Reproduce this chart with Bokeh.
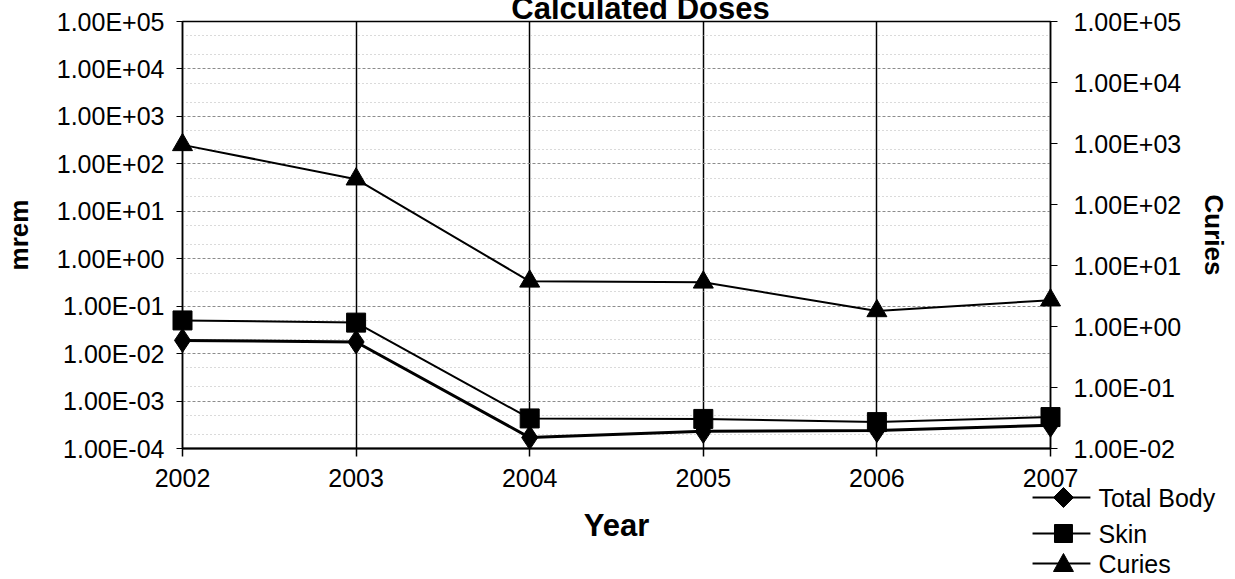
import math
from bokeh.plotting import figure
from bokeh.models import (Range1d, LogAxis, FixedTicker, CustomJSTickFormatter, LogScale)
from bokeh.core.properties import value
from bokeh.embed import file_html
from bokeh.resources import INLINE

years = [2002, 2003, 2004, 2005, 2006, 2007]
total_body = [0.019, 0.0176, 1.7e-4, 2.3e-4, 2.4e-4, 3.1e-4]
skin = [0.050, 0.045, 4.3e-4, 4.2e-4, 3.6e-4, 4.6e-4]
curies = [950, 260, 5.5, 5.3, 1.8, 2.7]

mrem_ticks = [1e-4, 1e-3, 1e-2, 1e-1, 1e0, 1e1, 1e2, 1e3, 1e4, 1e5]
mrem_labels = ["1.00E-04", "1.00E-03", "1.00E-02", "1.00E-01", "1.00E+00",
               "1.00E+01", "1.00E+02", "1.00E+03", "1.00E+04", "1.00E+05"]
curie_ticks = [1e-2, 1e-1, 1e0, 1e1, 1e2, 1e3, 1e4, 1e5]
curie_labels = ["1.00E-02", "1.00E-01", "1.00E+00", "1.00E+01",
                "1.00E+02", "1.00E+03", "1.00E+04", "1.00E+05"]
series_names = ["Total Body", "Skin", "Curies"]
chart_title = "Calculated Doses"

FONT = "Liberation Sans"

# layout (pixels)
W, H = 1235, 579
FL, FR, FT, FB = 180, 1050, 21, 448   # frame edges
FW, FH = FR - FL, FB - FT

fmt_code = """
let best = 0, bd = Infinity;
for (let i = 0; i < tvals.length; i++) {
  const d = Math.abs(Math.log10(tvals[i]) - Math.log10(tick));
  if (d < bd) { bd = d; best = i; }
}
return tlabels[best];
"""

p = figure(width=W, height=H,
           x_range=Range1d(years[0], years[-1]),
           y_range=Range1d(mrem_ticks[0], mrem_ticks[-1]),
           y_axis_type="log", output_backend="svg", toolbar_location=None,
           min_border_left=FL, min_border_right=W - FR,
           min_border_top=FT, min_border_bottom=H - FB)
p.background_fill_color = "white"
p.border_fill_color = "white"
p.outline_line_color = "black"
p.outline_line_width = 1.5

p.extra_y_ranges = {"cur": Range1d(curie_ticks[0], curie_ticks[-1])}
p.extra_y_scales = {"cur": LogScale()}

la = p.yaxis[0]
la.ticker = FixedTicker(ticks=mrem_ticks, minor_ticks=[])
la.formatter = CustomJSTickFormatter(args=dict(tvals=mrem_ticks, tlabels=mrem_labels), code=fmt_code)
la.axis_label = "mrem"

ra = LogAxis(y_range_name="cur")
ra.ticker = FixedTicker(ticks=curie_ticks, minor_ticks=[])
ra.formatter = CustomJSTickFormatter(args=dict(tvals=curie_ticks, tlabels=curie_labels), code=fmt_code)
ra.axis_label = "Curies"
p.add_layout(ra, "right")

for ax in (la, ra):
    ax.major_label_text_font = FONT
    ax.major_label_text_font_size = "25px"
    ax.major_label_text_color = "black"
    ax.axis_label_text_font = FONT
    ax.axis_label_text_font_style = "bold"
    ax.axis_label_text_font_size = "26px"
    ax.axis_label_text_color = "black"
    ax.axis_line_color = "black"
    ax.axis_line_width = 1.5
    ax.major_tick_line_color = "black"
    ax.major_tick_out = 6
    ax.major_tick_in = 0
    ax.minor_tick_line_color = None
la.major_label_standoff = 12
la.axis_label_standoff = 20
ra.major_tick_out = 7
ra.major_label_standoff = 16
ra.axis_label_standoff = 15

xa = p.xaxis[0]
xa.ticker = FixedTicker(ticks=years, minor_ticks=[])
xa.axis_label = "Year"
xa.major_label_text_font = FONT
xa.major_label_text_font_size = "25px"
xa.major_label_text_color = "black"
xa.axis_label_text_font = FONT
xa.axis_label_text_font_style = "bold"
xa.axis_label_text_font_size = "31px"
xa.axis_label_text_color = "black"
xa.axis_line_color = "black"
xa.axis_line_width = 2
xa.major_tick_line_color = "black"
xa.major_tick_line_width = 1.5
xa.major_tick_out = 8
xa.major_tick_in = 0
xa.minor_tick_line_color = None
xa.major_label_standoff = 12
xa.axis_label_standoff = 18

# grids
p.xgrid.ticker = FixedTicker(ticks=years, minor_ticks=[])
p.xgrid.grid_line_color = "black"
p.xgrid.grid_line_width = 1.5
p.ygrid.ticker = FixedTicker(ticks=mrem_ticks,
                             minor_ticks=[t * k for t in mrem_ticks[:-1] for k in (2.0, 5.0)])
p.ygrid.grid_line_color = "#8c8c8c"
p.ygrid.grid_line_width = 1
p.ygrid.grid_line_dash = "3 2"
p.ygrid.minor_grid_line_color = "#b5b5b5"
p.ygrid.minor_grid_line_dash = "1 3"
p.ygrid.minor_grid_line_width = 1

# series
markers = ["diamond", "square", "triangle"]
msizes = [24, 19, 20]
lwidths = [3, 2, 2]
p.line(years, total_body, line_color="black", line_width=lwidths[0])
p.scatter(years, total_body, marker=markers[0], size=msizes[0], color="black", level="overlay")
p.line(years, skin, line_color="black", line_width=lwidths[1])
p.scatter(years, skin, marker=markers[1], size=msizes[1], color="black", level="overlay")
p.line(years, curies, line_color="black", line_width=lwidths[2], y_range_name="cur")
p.scatter(years, curies, marker=markers[2], size=msizes[2], color="black",
          y_range_name="cur", level="overlay")

# ---- legend outside the frame (below-right), laid out in pixels from the frame corner
px_per_x = FW / (years[-1] - years[0])
px_per_dec = FH / (math.log10(mrem_ticks[-1]) - math.log10(mrem_ticks[0]))
def lx(dx):   # dx px right of the frame's right edge
    return years[-1] + dx / px_per_x
def ly(dy):   # dy px below the frame's bottom edge
    return 10 ** (math.log10(mrem_ticks[0]) - dy / px_per_dec)

row_dy = [49, 85, 115]
line_dx = (-18, 40)
mark_dx = 13
text_dx = 48
shapes = {
    "diamond": [(-10, 0), (0, -10), (10, 0), (0, 10)],
    "square": [(-9, -9), (9, -9), (9, 9), (-9, 9)],
    "triangle": [(0, -10), (10, 8), (-10, 8)],
}
for i, name in enumerate(series_names):
    dy = row_dy[i]
    p.line([lx(line_dx[0]), lx(line_dx[1])], [ly(dy), ly(dy)],
           line_color="black", line_width=2, level="overlay")
    pts = shapes[markers[i]]
    p.patch([lx(mark_dx + a) for a, b in pts], [ly(dy + b) for a, b in pts],
            fill_color="black", line_color="black", level="overlay")

p.text(x=[years[-1]] * 3, y=[mrem_ticks[0]] * 3, text=series_names,
       x_offset=[text_dx] * 3, y_offset=row_dy,
       text_font=value(FONT), text_font_size=value("25px"), text_color="black",
       text_align="left", text_baseline="middle", level="overlay")

# ---- title, mostly cut off at the top edge as in the reference
p.text(x=[(years[0] + years[-1]) / 2], y=[mrem_ticks[-1]], text=[chart_title],
       x_offset=[24], y_offset=[-13],
       text_font=value(FONT), text_font_size=value("31px"), text_font_style="bold",
       text_color="black", text_align="center", text_baseline="alphabetic", level="overlay")

open("out.html", "w").write(file_html(p, INLINE))
